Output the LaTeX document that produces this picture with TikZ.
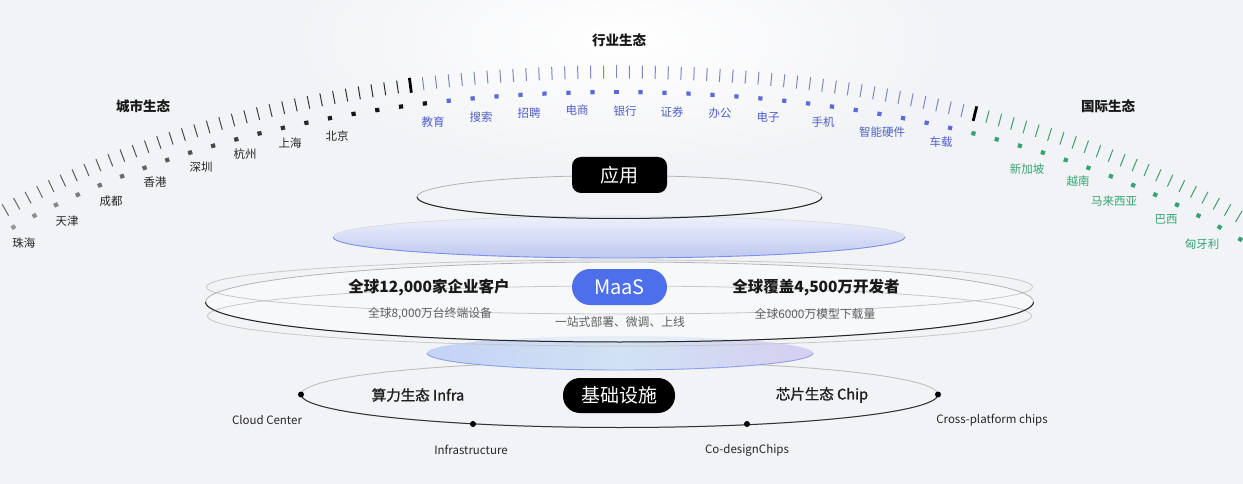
\documentclass[tikz,border=0pt]{standalone}
\usepackage{fontspec}
\setmainfont{Noto Sans CJK SC}
\newfontfamily\medfont[FakeBold=1.2]{Noto Sans CJK SC}
\usetikzlibrary{decorations.markings}
\definecolor{bg}{HTML}{F2F3F6}
\definecolor{indblue}{HTML}{4F60C8}
\definecolor{inddot}{HTML}{5A6BD6}
\definecolor{indtick}{HTML}{7C86C4}
\definecolor{grn}{HTML}{36A472}
\definecolor{grntick}{HTML}{3E9E6C}
\definecolor{maasblue}{HTML}{4E6FEA}
\definecolor{subgray}{HTML}{5E5E5E}
\definecolor{lbL}{RGB}{196,210,246}
\definecolor{lbM}{RGB}{208,226,243}
\definecolor{lbR}{RGB}{214,206,242}
\definecolor{lbEdge}{RGB}{138,160,234}
\definecolor{ubTop}{RGB}{238,241,251}
\definecolor{ubBot}{RGB}{190,200,240}
\definecolor{ubEdge}{RGB}{122,143,230}
\newcommand\mkseq{\pgfkeysvalueof{/pgf/decoration/mark info/sequence number}}
\newcommand\fsz[1]{\fontsize{#1pt}{#1pt}\selectfont}
\tikzset{
  thintick/.style={line width=1pt},
  thicktick/.style={line width=2.8pt,black},
  citylab/.style={inner sep=0pt,text=black!85,font=\fsz{11.5}},
  indlab/.style={inner sep=0pt,text=indblue,font=\fsz{11.5}},
  intlab/.style={inner sep=0pt,text=grn,font=\fsz{11.5}},
  head/.style={inner sep=0pt,text=black!90,font=\fsz{13.5}\bfseries},
  darkbox/.style={fill=black,text=white,inner sep=0pt,minimum height=36pt},
  bigtxt/.style={inner sep=0pt,text=black!90,font=\fsz{15.5}\bfseries},
  smalltxt/.style={inner sep=0pt,text=subgray,font=\fsz{11.8}},
  ecolab/.style={inner sep=0pt,text=black!88,font=\fsz{14.5}\medfont},
  enlab/.style={inner sep=0pt,text=black!85,font=\fsz{11.5}},
  bdot/.style={fill=black},
}
\begin{document}
\begin{tikzpicture}[x=1pt,y=-1pt]
\useasboundingbox (0,0) rectangle (1243,484);
\fill[bg] (0,0) rectangle (1243,484);
\shade[inner color=white,outer color=bg] (620,40) ellipse[x radius=330,y radius=130];
\begin{scope}
\clip (0,0) rectangle (1243,484);
% ---- ticks, left half
\path[decorate,decoration={markings,
  mark=between positions 0 and 1 step 12.9pt with {
    \pgfmathtruncatemacro\j{\mkseq-1}
    \ifnum\j<16
      \draw[thintick,indtick] (0pt,-6.5pt) -- (0pt,6.5pt);
    \else\ifnum\j=16
      \draw[thicktick] (0pt,-7.5pt) -- (0pt,7.5pt);
    \else
      \pgfmathtruncatemacro\p{max(55,85-(\j-17)*0.8)}
      \draw[thintick,black!\p] (0pt,-6.5pt) -- (0pt,6.5pt);
    \fi\fi}}]
  (616.5,72) arc[start angle=270,end angle=210,x radius=820,y radius=414];
% ---- ticks, right half
\path[decorate,decoration={markings,
  mark=between positions 0 and 1 step 12.9pt with {
    \pgfmathtruncatemacro\j{\mkseq-1}
    \ifnum\j<28
      \draw[thintick,indtick] (0pt,-6.5pt) -- (0pt,6.5pt);
    \else\ifnum\j=28
      \draw[thicktick] (0pt,-7.5pt) -- (0pt,7.5pt);
    \else
      \draw[thintick,grntick] (0pt,-6.5pt) -- (0pt,6.5pt);
    \fi\fi}}]
  (616.5,72) arc[start angle=270,end angle=330,x radius=820,y radius=414];
% ---- dots, left half
\path[decorate,decoration={markings,
  mark=between positions 0 and 1 step 24pt with {
    \pgfmathtruncatemacro\k{\mkseq-1}
    \ifnum\k<8
      \fill[inddot] (-2.1pt,-2.1pt) rectangle (2.1pt,2.1pt);
    \else
      \pgfmathtruncatemacro\p{max(38,min(92,92-(\k-11)*3.4))}
      \fill[black!\p] (-2.1pt,-2.1pt) rectangle (2.1pt,2.1pt);
    \fi}}]
  (616.5,92) arc[start angle=270,end angle=212,x radius=800,y radius=394];
% ---- dots, right half
\path[decorate,decoration={markings,
  mark=between positions 0 and 1 step 24pt with {
    \pgfmathtruncatemacro\k{\mkseq-1}
    \ifnum\k<15
      \fill[inddot] (-2.1pt,-2.1pt) rectangle (2.1pt,2.1pt);
    \else
      \fill[grn] (-2.1pt,-2.1pt) rectangle (2.1pt,2.1pt);
    \fi}}]
  (616.5,92) arc[start angle=270,end angle=328,x radius=800,y radius=394];
\end{scope}
% ---- headers
\node[head] (hcity) at (143,106) {城市生态};
\node[head] (hind) at (619,40) {行业生态};
\node[head] (hint) at (1108,106) {国际生态};
% ---- city labels
\node[citylab] (c1) at (24,243) {珠海};
\node[citylab] (c2) at (67,221) {天津};
\node[citylab] (c3) at (111,201) {成都};
\node[citylab] (c4) at (155,182) {香港};
\node[citylab] (c5) at (201,167) {深圳};
\node[citylab] (c6) at (245,154) {杭州};
\node[citylab] (c7) at (290,143) {上海};
\node[citylab] (c8) at (337,136) {北京};
% ---- industry labels
\node[indlab] (i1) at (433,122) {教育};
\node[indlab] (i2) at (481,117) {搜索};
\node[indlab] (i3) at (529,113) {招聘};
\node[indlab] (i4) at (577,110) {电商};
\node[indlab] (i5) at (625,111) {银行};
\node[indlab] (i6) at (672,112) {证券};
\node[indlab] (i7) at (720,113) {办公};
\node[indlab] (i8) at (768,117) {电子};
\node[indlab] (i9) at (823,122) {手机};
\node[indlab] (i10) at (882,132) {智能硬件};
\node[indlab] (i11) at (941,142) {车载};
% ---- international labels
\node[intlab] (n1) at (1027,169) {新加坡};
\node[intlab] (n2) at (1078,181) {越南};
\node[intlab] (n3) at (1114,201) {马来西亚};
\node[intlab] (n4) at (1166,219) {巴西};
\node[intlab] (n5) at (1202,244) {匈牙利};
% ---- bottom ellipse (infrastructure)
\draw[black!25,line width=0.9pt] (619.5,394.5) ellipse[x radius=318.5,y radius=33];
\draw[black!80,line width=1pt] (938,394.5) arc[start angle=0,end angle=180,x radius=318.5,y radius=33];
% ---- lower blue ellipse
\shade[left color=lbL,right color=lbR,middle color=lbM] (620,353) ellipse[x radius=193,y radius=17];
\draw[lbEdge,line width=0.9pt] (813,353) arc[start angle=0,end angle=180,x radius=193,y radius=17];
% ---- big MaaS rings
\fill[white,opacity=0.45] (619.5,302) ellipse[x radius=413,y radius=40];
\draw[black!22,line width=0.8pt] (619.5,287) ellipse[x radius=413,y radius=27];
\draw[black!22,line width=0.8pt] (619.5,316) ellipse[x radius=412,y radius=30];
\draw[black!30,line width=0.8pt] (619.5,302) ellipse[x radius=414,y radius=40];
\draw[black!85,line width=1pt] (1033.5,302) arc[start angle=0,end angle=180,x radius=414,y radius=40];
% ---- upper blue ellipse
\shade[top color=ubTop,bottom color=ubBot] (619,237) ellipse[x radius=286,y radius=21];
\draw[ubEdge,line width=0.9pt] (905,237) arc[start angle=0,end angle=180,x radius=286,y radius=21];
\draw[black!15,line width=0.6pt] (333,237) arc[start angle=180,end angle=360,x radius=286,y radius=21];
% ---- application ring
\draw[black!30,line width=0.8pt] (619.5,197) ellipse[x radius=202.5,y radius=21.5];
\draw[black!85,line width=1pt] (822,197) arc[start angle=0,end angle=180,x radius=202.5,y radius=21.5];
% ---- boxes
\node[darkbox,rounded corners=9pt,minimum width=95pt,font=\fsz{19}] (app) at (619.5,175) {应用};
\node[darkbox,fill=maasblue,rounded corners=18pt,minimum width=95pt,font=\fsz{20}] (maas) at (619.5,287) {MaaS};
\node[darkbox,rounded corners=17pt,minimum width=112pt,minimum height=35pt,font=\fsz{19}] (infra) at (619,395.5) {基础设施};
% ---- MaaS texts
\node[smalltxt] (maassub) at (620,322) {一站式部署、微调、上线};
\node[bigtxt] (l1) at (429,288) {全球12,000家企业客户};
\node[smalltxt] (l2) at (430,314) {全球8,000万台终端设备};
\node[bigtxt] (r1) at (816,288) {全球覆盖4,500万开发者};
\node[smalltxt] (r2) at (815,314) {全球6000万模型下载量};
% ---- infrastructure texts
\node[ecolab] (eco1) at (418,395) {算力生态 Infra};
\node[ecolab] (eco2) at (822,395) {芯片生态 Chip};
\fill[bdot] (301,394.5) circle (3pt) coordinate (d1);
\fill[bdot] (473,424) circle (3pt) coordinate (d2);
\fill[bdot] (747,424) circle (3pt) coordinate (d3);
\fill[bdot] (938,394.5) circle (3pt) coordinate (d4);
\node[enlab] (cc) at (267,420) {Cloud Center};
\node[enlab] (inf) at (471,450) {Infrastructure};
\node[enlab] (cod) at (747,450) {Co-designChips};
\node[enlab] (cpc) at (992,420) {Cross-platform chips};
\end{tikzpicture}
\end{document}
